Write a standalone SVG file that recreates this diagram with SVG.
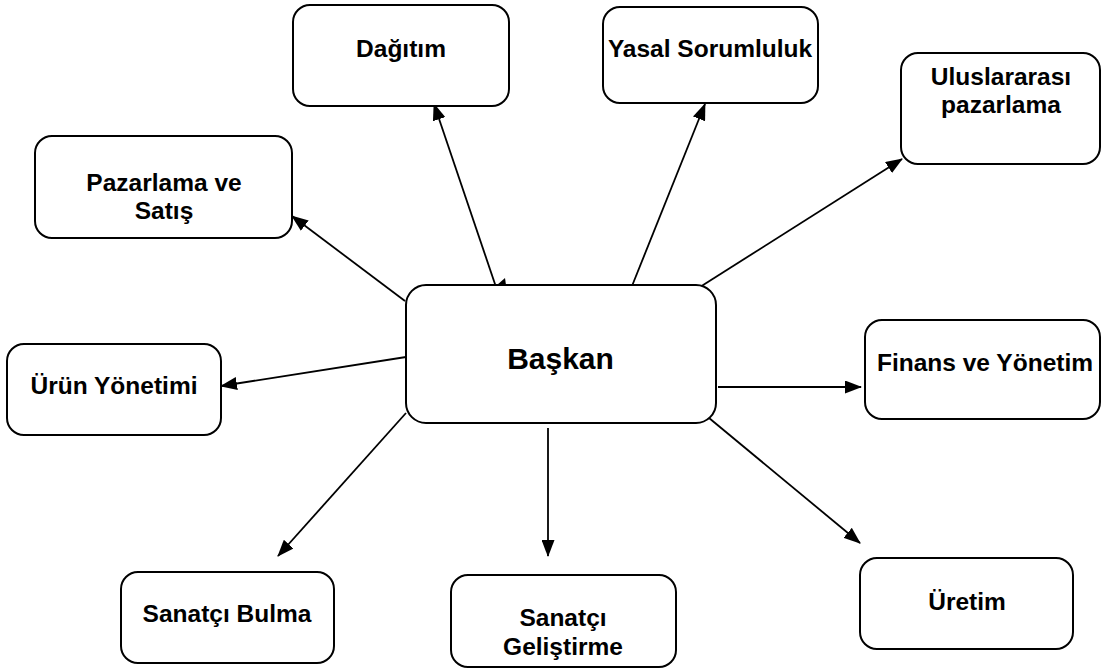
<svg xmlns="http://www.w3.org/2000/svg" width="1101" height="669" viewBox="0 0 1101 669">
<style>
.box{fill:#fff;stroke:#000;stroke-width:2}
.lbl{font-family:"Liberation Sans",Arial,sans-serif;font-weight:bold;font-size:24.5px;text-anchor:middle;fill:#000}
.big{font-size:30px}
.con{stroke:#000;stroke-width:1.8;fill:none;marker-end:url(#ah)}
</style>
<defs>
<marker id="ah" markerUnits="userSpaceOnUse" markerWidth="17" markerHeight="13" refX="16" refY="6.5" orient="auto">
<path d="M0,0 L17,6.5 L0,13 z" fill="#000"/>
</marker>
</defs>
<rect width="1101" height="669" fill="#fff"/>
<g id="connectors">
<line class="con" x1="496" y1="287" x2="434" y2="104"/>
<line class="con" x1="632" y1="286" x2="705" y2="104"/>
<line class="con" x1="405" y1="301" x2="292" y2="216"/>
<line class="con" x1="406" y1="357" x2="221" y2="386"/>
<line class="con" x1="700" y1="287" x2="902" y2="159"/>
<line class="con" x1="718" y1="387" x2="861" y2="387"/>
<line class="con" x1="703" y1="413" x2="860" y2="543"/>
<line class="con" x1="406" y1="413" x2="278" y2="556"/>
<line class="con" x1="548" y1="428" x2="548" y2="556"/>
</g>
<g id="dagitim"><rect class="box" x="293" y="5" width="216" height="101" rx="17"/><text class="lbl" x="401" y="57">Dağıtım</text></g>
<g id="yasal"><rect class="box" x="603" y="7" width="215" height="96" rx="17"/><text class="lbl" x="710" y="57">Yasal Sorumluluk</text></g>
<g id="uluslararasi"><rect class="box" x="901" y="53" width="199" height="111" rx="17"/><text class="lbl" x="1001" y="85">Uluslararası</text><text class="lbl" x="1001" y="113">pazarlama</text></g>
<g id="pazarlama"><rect class="box" x="35" y="136" width="257" height="102" rx="17"/><text class="lbl" x="164" y="191">Pazarlama ve</text><text class="lbl" x="164" y="219">Satış</text></g>
<g id="urun"><rect class="box" x="7" y="344" width="214" height="91" rx="17"/><text class="lbl" x="114" y="394">Ürün Yönetimi</text></g>
<g id="baskan"><rect class="box" x="406" y="285" width="310" height="138" rx="20"/><text class="lbl big" x="560.5" y="369">Başkan</text><polygon points="497,285 505,278 506,285" fill="#000"/></g>
<g id="finans"><rect class="box" x="865" y="320" width="235" height="99" rx="17"/><text class="lbl" x="985" y="371">Finans ve Yönetim</text></g>
<g id="sanatci-bulma"><rect class="box" x="121" y="572" width="213" height="91" rx="17"/><text class="lbl" x="227" y="622">Sanatçı Bulma</text></g>
<g id="sanatci-gelistirme"><rect class="box" x="451" y="575" width="225" height="92" rx="17"/><text class="lbl" x="563" y="626">Sanatçı</text><text class="lbl" x="563" y="655">Geliştirme</text></g>
<g id="uretim"><rect class="box" x="860" y="558" width="213" height="91" rx="17"/><text class="lbl" x="967" y="610">Üretim</text></g>
</svg>
